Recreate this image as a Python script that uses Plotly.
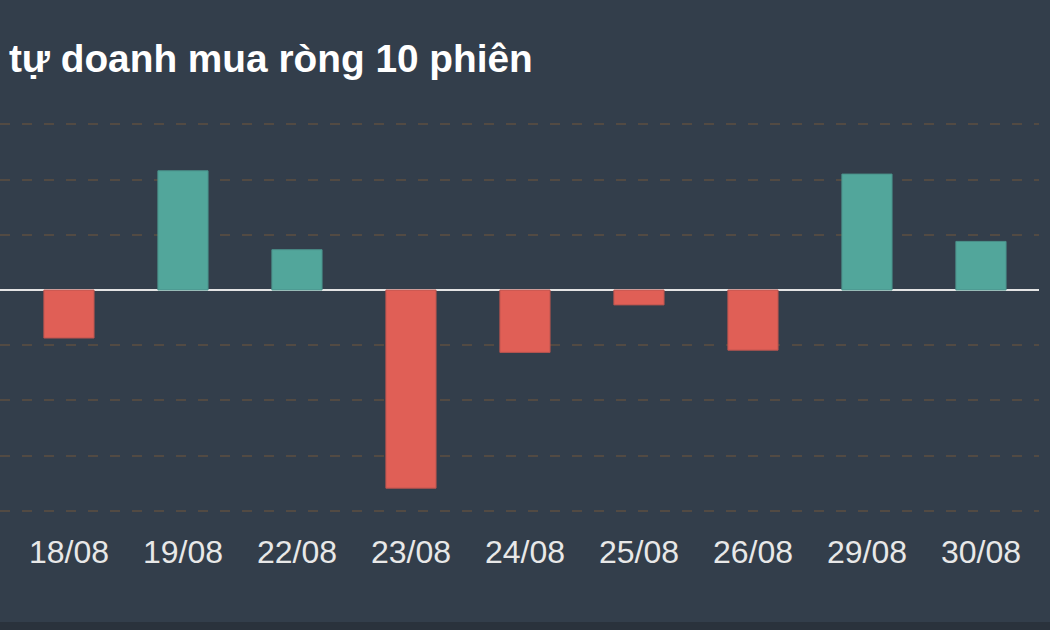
import plotly.graph_objects as go

dates = ["18/08", "19/08", "22/08", "23/08", "24/08", "25/08", "26/08", "29/08", "30/08"]
values = [-0.87, 2.16, 0.73, -3.59, -1.13, -0.27, -1.09, 2.10, 0.88]

POS = "#52a69b"
NEG = "#e05f56"
POS_EDGE = "#4a918a"
NEG_EDGE = "#b9544f"
BG = "#333e4b"

colors = [POS if v >= 0 else NEG for v in values]
edges = [POS_EDGE if v >= 0 else NEG_EDGE for v in values]

fig = go.Figure(go.Bar(
    x=list(range(len(dates))), y=values, width=0.44,
    marker=dict(color=colors, line=dict(color=edges, width=1)),
    hoverinfo="skip",
))

top, bottom = 100, 530
zero_px = 290
ppu = 55.2
fig.update_layout(
    width=1050, height=630,
    paper_bgcolor=BG, plot_bgcolor=BG,
    margin=dict(l=0, r=11, t=top, b=630 - bottom),
    showlegend=False,
    title=dict(text="<b>tự doanh mua ròng 10 phiên</b>", x=0.0085, xanchor="left",
               y=1 - 58 / 630, yanchor="middle",
               font=dict(family="Liberation Sans, Arial, sans-serif", size=38.8, color="#ffffff")),
    xaxis=dict(
        range=[-0.605, -0.605 + 1039 / 114],
        tickmode="array", tickvals=list(range(len(dates))), ticktext=dates,
        showgrid=False, zeroline=False, showline=False, ticks="",
        tickfont=dict(family="Liberation Sans, Arial, sans-serif", size=32, color="#e8e8e8"),
        fixedrange=True,
    ),
    yaxis=dict(
        range=[-(bottom - zero_px) / ppu, (zero_px - top) / ppu],
        dtick=1, tick0=0, showticklabels=False, ticks="",
        showgrid=True, gridcolor="#524a43", gridwidth=1.5, griddash="10px,12px",
        zeroline=True, zerolinecolor="#e4e4e4", zerolinewidth=2,
        showline=False, fixedrange=True,
    ),
    shapes=[dict(type="rect", xref="paper", yref="paper",
                 x0=-0.01, x1=1.02, y0=(bottom - 622) / (bottom - top), y1=(bottom - 631) / (bottom - top),
                 fillcolor="#2a323c", line=dict(width=0), layer="below")],
)

fig.write_html("out.html")
